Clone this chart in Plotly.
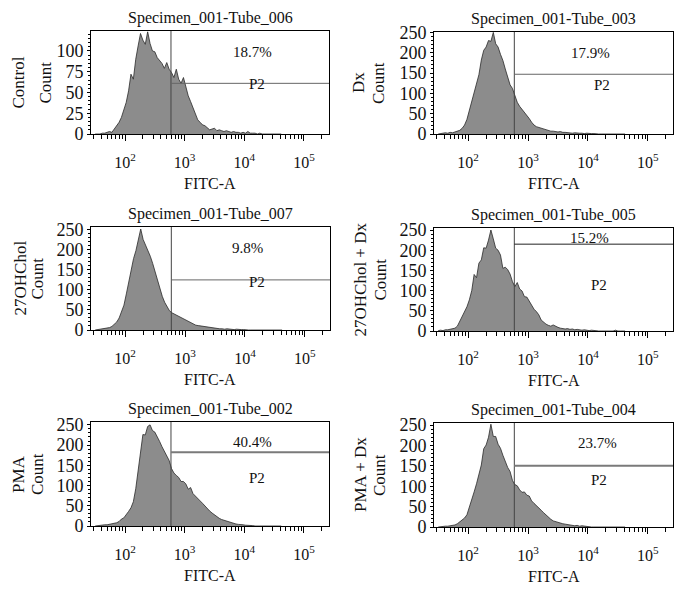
import math
import plotly.graph_objects as go

W, H = 684, 592

# ---------------- data ----------------
bin_log10 = [1.50, 1.54, 1.58, 1.62, 1.66, 1.70, 1.74, 1.78, 1.82, 1.86,
             1.90, 1.94, 1.98, 2.02, 2.06, 2.10, 2.14, 2.18, 2.22, 2.26,
             2.30, 2.34, 2.38, 2.42, 2.46, 2.50, 2.54, 2.58, 2.62, 2.66,
             2.70, 2.74, 2.78, 2.82, 2.86, 2.90, 2.94, 2.98, 3.02, 3.06,
             3.10, 3.14, 3.18, 3.22, 3.26, 3.30, 3.34, 3.38, 3.42, 3.46,
             3.50, 3.54, 3.58, 3.62, 3.66, 3.70, 3.74, 3.78, 3.82, 3.86,
             3.90, 3.94, 3.98, 4.02, 4.06, 4.10, 4.14, 4.18, 4.22, 4.26,
             4.30, 4.34, 4.38, 4.42, 4.46, 4.50, 4.54, 4.58, 4.62]

count_control = [0, 0, 0, 1, 1, 2, 3, 2, 6, 9,
                 14, 20, 28, 38, 52, 72, 66, 90, 106, 121,
                 113, 108, 123, 109, 100, 99, 92, 88, 85, 79,
                 86, 78, 74, 68, 78, 66, 61, 68, 56, 46,
                 39, 31, 24, 17, 14, 11, 10, 8, 5, 6,
                 7, 4, 5, 4, 3, 4, 3, 2, 3, 2,
                 2, 1, 2, 1, 3, 1, 1, 1, 0, 1,
                 0, 0, 0, 0, 0, 0, 0, 0, 0]
count_dx = [0, 1, 2, 3, 2, 4, 3, 5, 6, 9,
            14, 22, 36, 58, 80, 101, 122, 146, 182, 206,
            214, 230, 228, 250, 222, 214, 196, 181, 160, 138,
            121, 112, 96, 78, 68, 61, 52, 45, 38, 29,
            22, 18, 16, 14, 12, 11, 9, 7, 7, 6,
            5, 6, 4, 4, 3, 3, 2, 3, 2, 2,
            2, 1, 2, 1, 1, 1, 0, 0, 0, 0,
            0, 0, 0, 0, 0, 0, 0, 0, 0]
count_27ohchol = [0, 1, 1, 2, 3, 4, 6, 9, 14, 20,
                  30, 44, 62, 90, 120, 148, 178, 198, 222, 252,
                  226, 212, 200, 184, 166, 145, 122, 102, 84, 69,
                  58, 48, 43, 40, 37, 33, 29, 26, 23, 21,
                  18, 16, 12, 11, 10, 9, 8, 7, 6, 5,
                  4, 4, 3, 3, 2, 3, 2, 2, 1, 2,
                  1, 1, 1, 0, 0, 0, 0, 0, 0, 0,
                  0, 0, 0, 0, 0, 0, 0, 0, 0]
count_27ohchol_dx = [1, 2, 1, 3, 3, 4, 5, 7, 12, 24,
                     36, 48, 60, 77, 100, 140, 132, 168, 176, 206,
                     205, 225, 250, 228, 205, 200, 188, 155, 158, 152,
                     141, 122, 110, 120, 104, 99, 85, 84, 73, 62,
                     54, 48, 40, 27, 21, 17, 14, 12, 15, 11,
                     9, 7, 6, 5, 6, 4, 5, 3, 4, 3,
                     2, 3, 2, 1, 2, 1, 1, 0, 0, 0,
                     0, 0, 0, 0, 2, 0, 0, 0, 0]
count_pma = [0, 1, 1, 2, 3, 3, 4, 5, 7, 8,
             11, 17, 20, 27, 36, 45, 60, 92, 140, 192,
             226, 225, 246, 250, 236, 232, 222, 209, 196, 184,
             174, 162, 142, 131, 125, 120, 110, 110, 104, 91,
             95, 80, 74, 67, 62, 56, 49, 44, 37, 32,
             27, 22, 19, 16, 14, 11, 9, 8, 6, 5,
             4, 4, 3, 2, 2, 1, 1, 0, 0, 0,
             0, 0, 0, 0, 0, 0, 0, 0, 0]
count_pma_dx = [0, 1, 1, 2, 2, 3, 3, 5, 8, 12,
                16, 22, 30, 47, 65, 86, 106, 128, 152, 192,
                201, 220, 252, 222, 222, 203, 193, 176, 159, 146,
                136, 114, 104, 101, 91, 85, 86, 78, 76, 64,
                58, 53, 47, 41, 35, 29, 24, 19, 15, 13,
                11, 10, 8, 7, 6, 5, 4, 3, 4, 2,
                3, 2, 1, 1, 0, 0, 0, 0, 0, 0,
                0, 0, 0, 0, 0, 0, 0, 0, 0]

panel_titles = ["Specimen_001-Tube_006", "Specimen_001-Tube_003",
                "Specimen_001-Tube_007", "Specimen_001-Tube_005",
                "Specimen_001-Tube_002", "Specimen_001-Tube_004"]
condition_labels = ["Control", "Dx", "27OHChol", "27OHChol + Dx", "PMA", "PMA + Dx"]
percent_labels = ["18.7%", "17.9%", "9.8%", "15.2%", "40.4%", "23.7%"]
gate_name = "P2"
gate_fitc = 590
gate_heights = [61, 147, 125, 215, 182, 150]
x_title = "FITC-A"
y_title = "Count"
x_tickvals = [1e2, 1e3, 1e4, 1e5]
x_ticktext = ["10<sup>2</sup>", "10<sup>3</sup>", "10<sup>4</sup>", "10<sup>5</sup>"]
y_tickvals_control = [0, 25, 50, 75, 100]
y_tickvals_other = [0, 50, 100, 150, 200, 250]
y_max = [124, 251, 257, 255, 257, 255]

series = [count_control, count_dx, count_27ohchol, count_27ohchol_dx, count_pma, count_pma_dx]
fitc = [10 ** v for v in bin_log10]

# ---------------- layout (pixel geometry) ----------------
boxes = [(91, 329, 31, 134), (434, 673, 32, 134),
         (91, 330, 227, 330), (434, 673, 228, 331),
         (91, 329, 422, 526), (434, 673, 423, 527)]
pct_pos = [(252, 52), (590, 53), (247, 248), (589, 238), (252, 442), (597, 443)]
p2_pos = [(257, 84), (602, 85), (257, 282), (599, 285), (257, 478), (599, 480)]
ylab_x = [(18, 45), (358, 378), (20, 37), (360, 380), (18, 37), (360, 379)]
gate_style = [("#666666", 1), ("#666666", 1), ("#666666", 1),
              ("#222222", 1), ("#7a7a7a", 2), ("#7a7a7a", 2)]
X_RANGE_LOG = [1.43, 5.42]

FONT = "Liberation Serif, Times New Roman, serif"
TXT = "#111111"


def fx(px):
    return px / W


def fy(py):
    return 1 - py / H


minor_x = [m * 10 ** k for k in range(1, 6) for m in range(2, 10)
           if X_RANGE_LOG[0] < math.log10(m * 10 ** k) < X_RANGE_LOG[1]]

fig = go.Figure()
annotations = []
shapes = []
layout_axes = {}

for i in range(6):
    n = i + 1
    xa = "x" if n == 1 else f"x{n}"
    ya = "y" if n == 1 else f"y{n}"
    fig.add_trace(go.Scatter(
        x=fitc, y=series[i], mode="lines",
        line=dict(color="#2a2a2a", width=0.8),
        fill="tozeroy", fillcolor="#8c8c8c",
        xaxis=xa, yaxis=ya, showlegend=False, hoverinfo="skip"))

    x0, x1, y0, y1 = boxes[i]
    layout_axes["xaxis" if n == 1 else f"xaxis{n}"] = dict(
        domain=[fx(x0), fx(x1)], anchor=ya, type="log", range=X_RANGE_LOG,
        automargin=False,
        showgrid=False, zeroline=False, showline=True, mirror=True,
        linecolor="black", linewidth=1,
        tickmode="array", tickvals=x_tickvals, ticktext=x_ticktext,
        ticks="outside", ticklen=6, tickcolor="black", tickwidth=1,
        ticklabelstandoff=8,
        tickfont=dict(family=FONT, size=16, color=TXT),
        minor=dict(tickmode="array", tickvals=minor_x, ticks="outside",
                   ticklen=4, tickcolor="black", tickwidth=1, showgrid=False),
    )
    yt = y_tickvals_control if i == 0 else y_tickvals_other
    layout_axes["yaxis" if n == 1 else f"yaxis{n}"] = dict(
        domain=[fy(y1), fy(y0)], anchor=xa, range=[0, y_max[i]],
        automargin=False,
        showgrid=False, zeroline=False, showline=True, mirror=True,
        linecolor="black", linewidth=1,
        tickmode="array", tickvals=yt,
        ticks="outside", ticklen=3, tickcolor="black", tickwidth=1,
        ticklabelstandoff=0,
        tickfont=dict(family=FONT, size=18, color=TXT),
        minor=dict(dtick=5 if i == 0 else 10, ticks="outside", ticklen=2,
                   tickcolor="black", tickwidth=1, showgrid=False),
    )

    # gate lines (shape coordinates on a log axis are given in data units)
    gcol, gw = gate_style[i]
    shapes.append(dict(type="line", xref=xa, yref=f"{ya} domain",
                       x0=gate_fitc, x1=gate_fitc, y0=0, y1=1,
                       line=dict(color="#444444", width=1)))
    shapes.append(dict(type="line", xref=f"{xa} domain", yref=ya,
                       x0=(math.log10(gate_fitc) - X_RANGE_LOG[0]) / (X_RANGE_LOG[1] - X_RANGE_LOG[0]),
                       x1=1, y0=gate_heights[i], y1=gate_heights[i],
                       line=dict(color=gcol, width=gw)))

    cx = (x0 + x1) / 2
    cy = (y0 + y1) / 2
    annotations.append(dict(text=panel_titles[i], x=fx(cx), y=fy(y0 - 13),
                            xref="paper", yref="paper", showarrow=False,
                            xanchor="center", yanchor="middle",
                            font=dict(family=FONT, size=16, color=TXT)))
    annotations.append(dict(text=x_title, x=fx(cx), y=fy(y1 + 49),
                            xref="paper", yref="paper", showarrow=False,
                            xanchor="center", yanchor="middle",
                            font=dict(family=FONT, size=16, color=TXT)))
    lx1, lx2 = ylab_x[i]
    annotations.append(dict(text=condition_labels[i], x=fx(lx1), y=fy(cy),
                            xref="paper", yref="paper", showarrow=False,
                            textangle=-90, xanchor="center", yanchor="middle",
                            font=dict(family=FONT, size=17, color=TXT)))
    annotations.append(dict(text=y_title, x=fx(lx2), y=fy(cy),
                            xref="paper", yref="paper", showarrow=False,
                            textangle=-90, xanchor="center", yanchor="middle",
                            font=dict(family=FONT, size=17, color=TXT)))
    px_, py_ = pct_pos[i]
    annotations.append(dict(text=percent_labels[i], x=fx(px_), y=fy(py_),
                            xref="paper", yref="paper", showarrow=False,
                            xanchor="center", yanchor="middle",
                            font=dict(family=FONT, size=15, color=TXT)))
    px_, py_ = p2_pos[i]
    annotations.append(dict(text=gate_name, x=fx(px_), y=fy(py_),
                            xref="paper", yref="paper", showarrow=False,
                            xanchor="center", yanchor="middle",
                            font=dict(family=FONT, size=15, color=TXT)))

fig.update_layout(
    width=W, height=H, margin=dict(l=0, r=0, t=0, b=0),
    paper_bgcolor="white", plot_bgcolor="white",
    annotations=annotations, shapes=shapes, **layout_axes)

fig.write_html("out.html", config={"displayModeBar": False},
               post_script="document.body.style.margin='0px';document.body.style.overflow='hidden';")
